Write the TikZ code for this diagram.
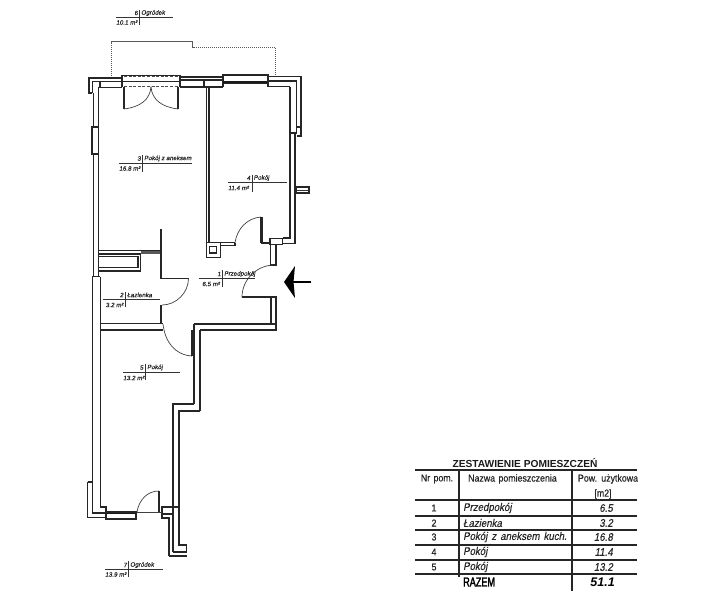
\documentclass[tikz,border=0pt]{standalone}
\usepackage{fontspec}
\setmainfont{Liberation Sans}
\newfontfamily\labfont[FakeBold=0.6,FakeSlant=0.15]{Liberation Sans}
\newfontfamily\cellfont[FakeStretch=0.88,FakeBold=0.4,FakeSlant=0.18,WordSpace=1.5]{Liberation Sans}
\newfontfamily\headfont[FakeStretch=0.88,FakeBold=0.6,WordSpace=1.4]{Liberation Sans}
\newfontfamily\totalfont[FakeStretch=0.7,FakeBold=2.2]{Liberation Sans}
\tikzset{
  wall/.style={line width=1.25pt,line join=miter,black!85},
  thin wall/.style={line width=0.8pt,black!80},
  heavy/.style={line width=1.9pt,black!90},
  gray wall/.style={line width=3pt,black!65},
  dashline/.style={line width=0.8pt,dash pattern=on 3pt off 1.6pt,black!70},
  garden/.style={line width=0.6pt,dash pattern=on 1.2pt off 0.8pt,black!65},
  swing/.style={line width=0.7pt,black!75},
  leader/.style={line width=0.7pt,black!80},
  lab/.style={inner sep=0pt,font=\labfont\fontsize{6.2}{7}\selectfont,text=black!85},
  rule/.style={line width=1.1pt,black!85},
  cell/.style={inner sep=0pt,font=\cellfont\fontsize{11}{13}\selectfont,text=black!85},
  head/.style={inner sep=0pt,font=\headfont\fontsize{10}{12}\selectfont,text=black!85},
}
\begin{document}
\begin{tikzpicture}[x=1pt,y=-1pt]
\useasboundingbox (0,0) rectangle (717,603);
% garden outline
\draw[garden] (111.7,76)--(111.7,41.7)--(192.7,41.7)--(192.7,47.3)--(275,47.3)--(275,75);
% top-left corner and left wall
\draw[wall] (122,78)--(89,78)--(89,93)--(92.3,93);
\draw[wall] (122,81.7)--(92.3,81.7)--(92.3,93);
\draw[wall] (122,87.3)--(100,87.3)--(100,81.7);
\draw[wall] (93.3,93)--(93.3,127);
\draw[wall] (98.7,87.3)--(98.7,127);
\draw[wall] (92,127) rectangle (98.7,154);
\draw[wall] (93.3,154)--(93.3,276.7);
\draw[wall] (98.7,154)--(98.7,276.7);
% French window and double door
\draw[wall] (122,75.7) rectangle (180,81.7);
\draw[wall] (122,81.7)--(122,87.3);
\draw[wall] (180,81.7)--(180,87);
\draw[dashline] (124,76.5)--(178,76.5);
\draw[dashline] (124,86.7)--(178,86.7);
\draw[wall] (124,86.7)--(124,109);
\draw[wall] (178,86.7)--(178,109);
\draw[swing] (124,109) .. controls (140,107) and (150,100) .. (151,86.7);
\draw[swing] (178,109) .. controls (162,107) and (152,100) .. (151,86.7);
% top wall to the right
\draw[wall] (180,77)--(223,77);
\draw[wall] (180,80)--(223,80);
\draw[wall] (180,87)--(223,87);
\draw[wall] (204,80)--(204,87);
\draw[wall] (223,75) rectangle (268,83);
\draw[heavy] (223,82.3)--(268,82.3);
\draw[wall] (223,83)--(223,87);
\draw[wall] (268,76.5)--(268,86.7)--(290,86.7);
\draw[wall] (268,76.5)--(301,76.5)--(301,136)--(296.7,136);
\draw[wall] (268,81)--(296.7,81)--(296.7,127)--(301,127);
% room 4 walls
\draw[wall] (290,86.7)--(290,238)--(282.7,238);
\draw[wall] (290,133)--(296.7,133)--(296.7,127);
\draw[wall] (295,133)--(295,243.3)--(282.7,243.3);
\draw[wall] (206.7,87)--(206.7,242.7);
\draw[wall] (209,87)--(209,242.7);
\draw[wall] (206.7,242.7) rectangle (220.7,257.7);
\draw[wall] (209.5,246.7) rectangle (216.5,253);
\draw[wall] (206.7,242.7)--(235,242.7);
\draw[wall] (220.7,245.2)--(235,245.2)--(235,242.7);
\draw[swing] (235,242.7) .. controls (237,229) and (247,218) .. (261,217);
\draw[gray wall,black!85] (261,217)--(261,243);
\draw[wall] (261,243)--(270,243);
\draw[wall] (270,238.3) rectangle (282.7,244.3);
\draw[wall] (270.7,244.3)--(270.7,265)--(276,265)--(276,244.3);
% small stub on right
\draw[wall] (296,187) rectangle (309,193);
\draw[thin wall] (296,190)--(309,190);
% bathroom and kitchen counter
\draw[gray wall,line width=2.6pt,black!85] (161,229)--(161,279);
\draw[wall] (161,278.3)--(188.5,278.3);
\draw[wall] (98.7,250.7)--(159.7,250.7);
\draw[wall] (98.7,254)--(140.7,254)--(140.7,271)--(98.7,271);
\draw[wall] (98.7,256.7)--(138,256.7)--(138,267.7)--(98.7,267.7);
\draw[gray wall] (140.7,252.3)--(159.7,252.3);
\draw[swing] (188.5,278.3) .. controls (188.5,293) and (176,305) .. (162,305);
\draw[gray wall,line width=2.6pt,black!85] (161,305)--(161,324);
% lower left walls
\draw[wall] (92,276.7)--(100.3,276.7);
\draw[wall] (92.3,276.7)--(92.3,482);
\draw[wall] (100.3,276.7)--(100.3,507);
\draw[wall] (100.3,323.5)--(163,323.5);
\draw[wall] (100.3,330)--(163,330);
\draw[swing] (163,324) .. controls (165,342) and (175,355) .. (192,356);
% entrance
\draw[gray wall,black!85] (192.5,330)--(192.5,356);
\draw[wall] (194,324)--(194,404);
\draw[wall] (200,330)--(200,411);
\draw[wall] (194,324)--(276,324)--(276,297)--(271,297)--(271,324);
\draw[wall] (200,330)--(276,330)--(276,324);
\draw[wall] (271,297)--(242,297);
\draw[swing] (242,297) .. controls (242,281) and (255,266) .. (273,265);
% lower room jog
\draw[wall] (194,404)--(173,404)--(173,552);
\draw[wall] (200,411)--(179,411)--(179,545)--(186.7,545)--(186.7,552)--(173,552);
\draw[wall] (169,556)--(187,556);
\draw[wall] (169,556)--(169,518)--(162,518)--(162,507)--(179,507);
\draw[wall] (162,514)--(173,514);
% balcony door
\draw[wall] (159,491)--(159,513);
\draw[swing] (159,491) .. controls (147,491) and (139,500) .. (137,512);
\draw[swing] (137,512.5)--(162,512.5);
\draw[wall] (106,512) rectangle (136,519);
\draw[heavy] (106,513.5)--(136,513.5);
\draw[wall] (100.3,507)--(106,507)--(106,512);
\draw[wall] (87.7,482)--(92.3,482);
\draw[wall] (87.7,482)--(87.7,517.7)--(106,517.7);
\draw[wall] (92.3,482)--(92.3,513)--(106,513);
% arrow
\coordinate (arrowtail) at (311,282);
\coordinate (arrowtip) at (284,282);
\draw[line width=1.2pt,black] (arrowtail)--(292,282);
\fill[black] (arrowtip)--(295,266)--(293.5,282)--(295,298)--cycle;
% room labels
\draw[leader] (116,17)--(173,17); \draw[leader] (139.5,10)--(139.5,25);
\node[lab,anchor=east] (n6) at (138,13) {6};
\node[lab,anchor=west] (t6) at (141,13) {Ogródek};
\node[lab,anchor=west] (a6) at (116,22.5) {10.1 m²};
\draw[leader] (119,163)--(192,163); \draw[leader] (142.7,155)--(142.7,172);
\node[lab,anchor=east] (n3) at (141,158.5) {3};
\node[lab,anchor=west] (t3) at (144,158.5) {Pokój z aneksem};
\node[lab,anchor=west] (a3) at (119,168.5) {16.8 m²};
\draw[leader] (228,182)--(287,182); \draw[leader] (252,175)--(252,192);
\node[lab,anchor=east] (n4) at (250.5,178) {4};
\node[lab,anchor=west] (t4) at (253.5,178) {Pokój};
\node[lab,anchor=west] (a4) at (228,188) {11.4 m²};
\draw[leader] (199,278)--(255,278); \draw[leader] (222.7,270)--(222.7,287);
\node[lab,anchor=east] (n1) at (221,274) {1};
\node[lab,anchor=west] (t1) at (224,274) {Przedpokój};
\node[lab,anchor=west] (a1) at (202,284) {6.5 m²};
\draw[leader] (103,299)--(160,299); \draw[leader] (125,292)--(125,307);
\node[lab,anchor=east] (n2) at (123.5,295) {2};
\node[lab,anchor=west] (t2) at (127,295) {Łazienka};
\node[lab,anchor=west] (a2) at (105.5,305) {3.2 m²};
\draw[leader] (123,372)--(180,372); \draw[leader] (145,364)--(145,380);
\node[lab,anchor=east] (n5) at (143.5,367.5) {5};
\node[lab,anchor=west] (t5) at (147,367.5) {Pokój};
\node[lab,anchor=west] (a5) at (123,378) {13.2 m²};
\draw[leader] (105,569)--(163,569); \draw[leader] (128.7,561)--(128.7,577);
\node[lab,anchor=east] (n7) at (127,565) {7};
\node[lab,anchor=west] (t7) at (130,565) {Ogródek};
\node[lab,anchor=west] (a7) at (105,574.5) {13.9 m²};
% table
\node[inner sep=0pt,font=\fontsize{10.2}{12}\selectfont\bfseries,text=black!90] (title) at (525,463) {ZESTAWIENIE POMIESZCZEŃ};
\foreach \yy in {470,500,516,530,545,560,574} \draw[rule] (415,\yy)--(637,\yy);
\draw[rule] (459,470)--(459,577);
\draw[rule] (572,470)--(572,591);
\node[head] (h1) at (437,479) {Nr pom.};
\node[head,anchor=west] (h2) at (468,479) {Nazwa pomieszczenia};
\node[head] (h3) at (608,479) {Pow. użytkowa};
\node[head] (h4) at (603,494) {[m2]};
\node[head] (r1) at (434,508) {1};
\node[head] (r2) at (434,523) {2};
\node[head] (r3) at (434,537) {3};
\node[head] (r4) at (434,552) {4};
\node[head] (r5) at (434,567) {5};
\node[cell,anchor=west] (c1) at (463,508) {Przedpokój};
\node[cell,anchor=west] (c2) at (463,523) {Łazienka};
\node[cell,anchor=west] (c3) at (463,537) {Pokój z aneksem kuch.};
\node[cell,anchor=west] (c4) at (463,552) {Pokój};
\node[cell,anchor=west] (c5) at (463,567) {Pokój};
\node[cell,anchor=east] (v1) at (613,508) {6.5};
\node[cell,anchor=east] (v2) at (613,523) {3.2};
\node[cell,anchor=east] (v3) at (613,537) {16.8};
\node[cell,anchor=east] (v4) at (613,552) {11.4};
\node[cell,anchor=east] (v5) at (613,567) {13.2};
\node[inner sep=0pt,anchor=west,font=\totalfont\fontsize{13}{15}\selectfont] (rz) at (463,582) {RAZEM};
\node[inner sep=0pt,anchor=east,font=\fontsize{12.5}{14}\selectfont\bfseries\itshape] (vz) at (615,582) {51.1};
\end{tikzpicture}
\end{document}
